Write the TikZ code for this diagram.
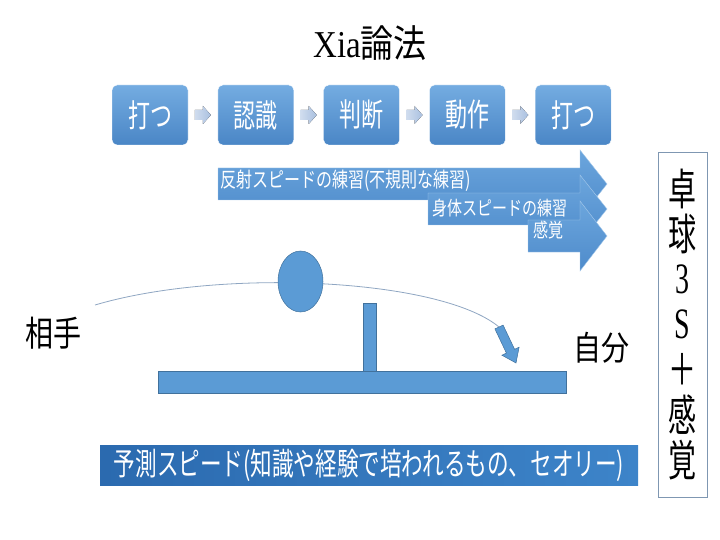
\documentclass[tikz,border=0pt]{standalone}
\usepackage{fontspec}
\setmainfont{Liberation Serif}
\newfontfamily\jp{Noto Sans CJK JP}
\usetikzlibrary{calc}
\newcommand{\tallbox}[2][1.45]{\scalebox{1}[#1]{#2}}
\definecolor{pptblue}{HTML}{5B9BD5}
\definecolor{pptedge}{HTML}{41719C}
\definecolor{boxtop}{HTML}{74ACE1}
\definecolor{boxbot}{HTML}{4A86C6}
\definecolor{arrowtop}{HTML}{6CA6DD}
\definecolor{arrowbot}{HTML}{4E8BCB}
\definecolor{bardark}{HTML}{2B6AAF}
\definecolor{barlight}{HTML}{3D84C9}
\definecolor{chevron}{HTML}{A9C0E0}
\definecolor{trajgray}{HTML}{8FA6C2}
\definecolor{framegray}{HTML}{7F97B2}
\tikzset{
  stepbox/.style={rounded corners=5pt, minimum width=76pt, minimum height=60pt,
    inner sep=0pt, top color=boxtop, bottom color=boxbot, draw=white, text=white,
    font=\jp\fontsize{22}{22}\selectfont},
  bigarrow/.style={top color=arrowtop, bottom color=arrowbot, draw=arrowtop!60!white,
    line width=0.4pt},
  arrowtext/.style={anchor=west, inner sep=0pt, text=white},
  tablepart/.style={fill=pptblue, draw=pptedge, line width=0.5pt},
  coltext/.style={inner sep=0pt, font=\jp\fontsize{28}{28}\selectfont},
  sidelabel/.style={inner sep=0pt, font=\jp\fontsize{28}{28}\selectfont},
}
\begin{document}
\begin{tikzpicture}[x=1pt, y=-1pt]
  \useasboundingbox (0,0) rectangle (720,540);
  % タイトル
  \node[inner sep=0pt, font=\fontsize{33}{33}\selectfont] (title) at (370,43)
    {\tallbox[1.15]{Xia{\jp 論法}}};
  % 打つ → 認識 → 判断 → 動作 → 打つ
  \foreach \i/\t in {1/打つ, 2/認識, 3/判断, 4/動作, 5/打つ}{
    \node[stepbox] (s\i) at ({150+105.8*(\i-1)},115) {\tallbox{\t}};
  }
  \foreach \i/\j in {1/2, 2/3, 3/4, 4/5}{
    \coordinate (m\i) at ($(s\i.east)!0.5!(s\j.west)$);
    \fill[left color=chevron!55!white, right color=chevron]
      ([shift={(-8,-5)}]m\i) -- ([shift={(0,-5)}]m\i) -- ([shift={(0,-9)}]m\i)
      -- ([shift={(8,0)}]m\i) -- ([shift={(0,9)}]m\i) -- ([shift={(0,5)}]m\i)
      -- ([shift={(-8,5)}]m\i) -- cycle;
  }
  % 3つのスピードの矢印
  \foreach \l/\c/\h in {218/184/34, 428/209/34, 528/236/35}{
    \draw[bigarrow] (\l,\c-16) -- (580,\c-16) -- (580,\c-\h) -- (607,\c)
      -- (580,\c+\h) -- (580,\c+16) -- (\l,\c+16) -- cycle;
  }
  \node[arrowtext, font=\jp\fontsize{16}{16}\selectfont] (reflex) at (220,181)
    {\tallbox[1.3]{反射スピードの練習(不規則な練習)}};
  \node[arrowtext, font=\jp\fontsize{15}{15}\selectfont] (body) at (432,208)
    {\tallbox[1.3]{身体スピードの練習}};
  \node[arrowtext, font=\jp\fontsize{15}{15}\selectfont] (sense) at (533,230)
    {\tallbox[1.3]{感覚}};
  % 卓球3S＋感覚
  \node[draw=framegray, line width=0.8pt, minimum width=49pt, minimum height=345pt,
    inner sep=0pt] (col) at (682.5,324.5) {};
  \foreach \i/\t in {1/卓, 2/球, 3/{\rmfamily 3}, 4/{\rmfamily S}, 5/＋, 6/感, 7/覚}{
    \node[coltext] (c\i) at (682.5,{189+45.2*(\i-1)}) {\tallbox[1.55]{\t}};
  }
  % ボールの軌道
  \coordinate (serve) at (95,305);
  \coordinate (bounce) at (499,327);
  \draw[trajgray, line width=0.8pt] (serve) .. controls (220,268) and (440,278) .. (bounce);
  \draw[tablepart] (503.1,325.1) -- (514.6,349.3) -- (519.1,347.2) -- (516,363)
    -- (501.9,355.2) -- (506.4,353.1) -- (494.9,328.9) -- cycle;
  \draw[tablepart] (300.5,281.5) ellipse [x radius=22.5, y radius=30.5];
  % 台とネット
  \draw[tablepart] (363,303) rectangle (376,371);
  \draw[tablepart] (158,371) rectangle (566,393);
  \node[sidelabel] (opp) at (53,333) {\tallbox[1.25]{相手}};
  \node[sidelabel] (self) at (601,348) {\tallbox[1.2]{自分}};
  % 予測スピード
  \node[left color=bardark, right color=barlight, minimum width=538pt, minimum height=40pt,
    inner sep=0pt, text=white, font=\jp\fontsize{21.6}{21.6}\selectfont] (predict) at (369,465)
    {\tallbox{予測スピード(知識や経験で培われるもの、セオリー)}};
\end{tikzpicture}
\end{document}
